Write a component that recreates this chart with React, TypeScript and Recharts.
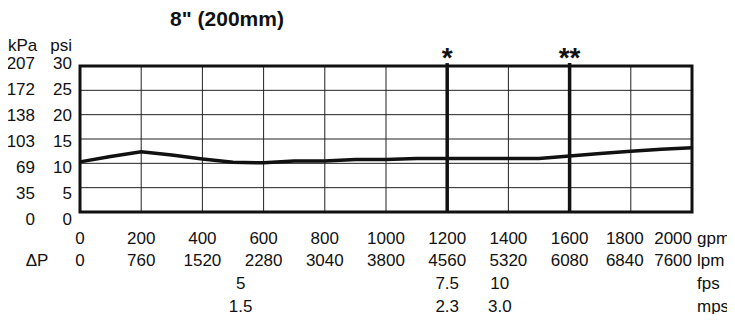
import React from "react";
import {
  LineChart,
  Line,
  XAxis,
  YAxis,
  CartesianGrid,
  ReferenceLine,
  ReferenceArea,
} from "recharts";

// flow axis (gpm) and the matching lpm row
const gpmTicks = [0, 200, 400, 600, 800, 1000, 1200, 1400, 1600, 1800, 2000];
const lpmLabels = ["0", "760", "1520", "2280", "3040", "3800", "4560", "5320", "6080", "6840", "7600"];

// velocity rows, placed at gpm positions
const velocityGpm = [525, 1200, 1372];
const fpsLabels = ["5", "7.5", "10"];
const mpsLabels = ["1.5", "2.3", "3.0"];

// pressure drop axis (psi) and the matching kPa column
const psiTicks = [0, 5, 10, 15, 20, 25, 30];
const kpaLabels = ["0", "35", "69", "103", "138", "172", "207"];

// pressure drop curve
const flowGpm = [0, 100, 200, 300, 400, 500, 600, 700, 800, 900, 1000, 1100, 1200, 1300, 1400, 1500, 1600, 1700, 1800, 1900, 2000];
const dropPsi = [10.3, 11.4, 12.4, 11.7, 10.9, 10.2, 10.1, 10.5, 10.5, 10.8, 10.8, 11.0, 11.0, 11.0, 11.0, 11.0, 11.5, 12.0, 12.5, 12.9, 13.2];

const markerGpm = [1200, 1600];
const markerLabels = ["*", "**"];

const data = flowGpm.map((gpm, i) => ({ gpm, psi: dropPsi[i] }));

const FONT = "'Liberation Sans', Arial, sans-serif";
const INK = "#111";

const rowTick = (labels: string[], values: number[]) => (props: any) => {
  const { x, y, payload } = props;
  const i = values.indexOf(payload.value);
  let anchor: "middle" | "end" = "middle";
  let dx = 0;
  if (values === gpmTicks && i === values.length - 1) anchor = "end";
  if (values === gpmTicks && i === values.length - 2) dx = -6;
  return (
    <text x={x + dx} y={y} dy="0.35em" textAnchor={anchor} fontSize={17} fontFamily={FONT} fill={INK}>
      {labels[i]}
    </text>
  );
};

// psi and kPa columns drawn from the same tick
const pressureTick = (props: any) => {
  const { x, y, payload } = props;
  const i = psiTicks.indexOf(payload.value);
  const shift = -2 + ((payload.value - 15) / 15) * 5;
  return (
    <g fontSize={17} fontFamily={FONT} fill={INK} textAnchor="end">
      <text x={x} y={y - shift} dy="0.35em">
        {psiTicks[i]}
      </text>
      <text x={x - 37} y={y - shift} dy="0.35em">
        {kpaLabels[i]}
      </text>
    </g>
  );
};

const unitLabel = (text: string, cy: number, left?: string) => (props: any) => {
  const vb = props.viewBox;
  return (
    <g fontSize={17} fontFamily={FONT} fill={INK}>
      <text x={vb.x + vb.width + 5} y={vb.y + cy} dy="0.35em">
        {text}
      </text>
      {left && (
        <text x={vb.x - 43} y={vb.y + cy} dy="0.35em" textAnchor="middle">
          {left}
        </text>
      )}
    </g>
  );
};

const headLabel = (props: any) => {
  const vb = props.viewBox;
  const x = vb.x + vb.width - 8;
  return (
    <g fontSize={17} fontFamily={FONT} fill={INK}>
      <text x={x} y={vb.y - 21} dy="0.35em" textAnchor="end">
        psi
      </text>
      <text x={0} y={vb.y - 21} dy="0.35em" textAnchor="start">
        kPa
      </text>
    </g>
  );
};

const starLabel = (text: string) => (props: any) => {
  const vb = props.viewBox;
  return (
    <text x={vb.x} y={vb.y + 4} textAnchor="middle" fontSize={28} fontWeight="bold" fontFamily={FONT} fill={INK}>
      {text}
    </text>
  );
};

export default function App() {
  return (
    <div style={{ position: "relative", width: 727, height: 314, marginBottom: -8 }}>
      <div
        style={{
          position: "absolute",
          left: 0,
          top: 0,
          width: 438,
          textAlign: "center",
          fontFamily: FONT,
          fontWeight: "bold",
          fontSize: 21,
          lineHeight: "21px",
          color: INK,
        }}
      >
        8" (200mm)
      </div>
      <LineChart width={727} height={314} data={data} margin={{ top: 58, right: 43, left: 0, bottom: 0 }}>
        <CartesianGrid xAxisId="a_gpm" yAxisId="psi" stroke="#222" strokeWidth={1} />
        <XAxis
          xAxisId="a_gpm"
          dataKey="gpm"
          type="number"
          domain={[0, 2000]}
          ticks={gpmTicks}
          interval={0}
          axisLine={false}
          tickLine={false}
          tickSize={0}
          tickMargin={26.5}
          height={38}
          tick={rowTick(gpmTicks.map(String), gpmTicks)}
          label={{ content: unitLabel("gpm", 26.5) }}
        />
        <XAxis
          xAxisId="b_lpm"
          dataKey="gpm"
          type="number"
          domain={[0, 2000]}
          ticks={gpmTicks}
          interval={0}
          axisLine={false}
          tickLine={false}
          tickSize={0}
          tickMargin={10}
          height={24}
          tick={rowTick(lpmLabels, gpmTicks)}
          label={{ content: unitLabel("lpm", 10, "ΔP") }}
        />
        <XAxis
          xAxisId="c_fps"
          dataKey="gpm"
          type="number"
          domain={[0, 2000]}
          ticks={velocityGpm}
          interval={0}
          axisLine={false}
          tickLine={false}
          tickSize={0}
          tickMargin={9.5}
          height={23}
          tick={rowTick(fpsLabels, velocityGpm)}
          label={{ content: unitLabel("fps", 9.5) }}
        />
        <XAxis
          xAxisId="d_mps"
          dataKey="gpm"
          type="number"
          domain={[0, 2000]}
          ticks={velocityGpm}
          interval={0}
          axisLine={false}
          tickLine={false}
          tickSize={0}
          tickMargin={9.5}
          height={25}
          tick={rowTick(mpsLabels, velocityGpm)}
          label={{ content: unitLabel("mps", 9.5) }}
        />
        <YAxis
          yAxisId="psi"
          type="number"
          domain={[0, 30]}
          ticks={psiTicks}
          interval={0}
          axisLine={false}
          tickLine={false}
          tickSize={0}
          tickMargin={8}
          width={72}
          tick={pressureTick}
          label={{ content: headLabel }}
        />
        <ReferenceArea
          xAxisId="a_gpm"
          yAxisId="psi"
          x1={0}
          x2={2000}
          y1={0}
          y2={30}
          fill="none"
          fillOpacity={0}
          stroke={INK}
          strokeWidth={3}
        />
        {markerGpm.map((g, i) => (
          <ReferenceLine
            key={g}
            xAxisId="a_gpm"
            yAxisId="psi"
            segment={[
              { x: g, y: 0 },
              { x: g, y: 30.6 },
            ]}
            ifOverflow="visible"
            stroke={INK}
            strokeWidth={3.5}
            label={{ content: starLabel(markerLabels[i]) }}
          />
        ))}
        <Line
          xAxisId="a_gpm"
          yAxisId="psi"
          dataKey="psi"
          type="linear"
          stroke={INK}
          strokeWidth={3.5}
          dot={false}
          activeDot={false}
          isAnimationActive={false}
        />
      </LineChart>
    </div>
  );
}
